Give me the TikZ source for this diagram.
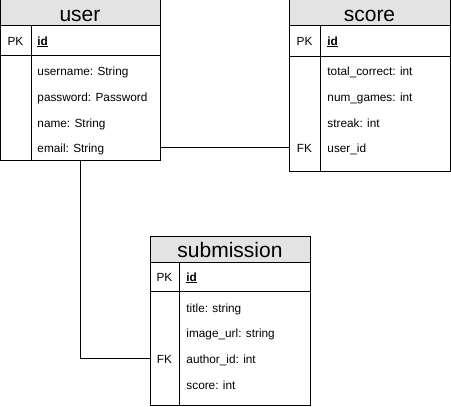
\documentclass[tikz,border=0pt]{standalone}
\usepackage{fontspec}
\setmainfont{Liberation Sans}
\usetikzlibrary{positioning,calc}

\begin{document}
\begin{tikzpicture}[
    x=1pt, y=-1pt,
    line width=0.9pt,
    frame/.style={draw, anchor=north west, inner sep=0pt},
    header/.style={draw, fill=gray!22, anchor=north west, inner sep=0pt},
    title/.style={anchor=base, inner sep=0pt, font=\fontsize{21}{23}\selectfont},
    keytag/.style={anchor=base, font=\fontsize{11.8}{13}\selectfont, inner sep=0pt},
    field/.style={anchor=base west, font=\fontsize{11.8}{13}\selectfont, inner sep=0pt}
  ]
  \useasboundingbox (0,0) rectangle (451,407);

  % user
  \node[frame, minimum width=160pt, minimum height=161pt] (user) at (0,-1) {};
  \node[header, minimum width=160pt, minimum height=26pt] (userhd) at (0,-1) {};
  \node[title] (usert) at (80,21) {user};
  \draw (user.west |- 0,55) -- (user.east |- 0,55);
  \draw (31,25) -- (31,160);
  \node[keytag] (upk) at (15.5,45) {PK};
  \node[field] (uid) at (37,45) {\underline{\textbf{id}}};
  \node[field] (uname) at (37,75) {username: String};
  \node[field] (upass) at (37,101) {password: Password};
  \node[field] (ureal) at (37,127) {name: String};
  \node[field] (umail) at (37,152) {email: String};

  % score
  \node[frame, minimum width=161pt, minimum height=172pt] (score) at (289,-1) {};
  \node[header, minimum width=161pt, minimum height=26pt] (scorehd) at (289,-1) {};
  \node[title] (scoret) at (369.5,21) {score};
  \draw (score.west |- 0,56) -- (score.east |- 0,56);
  \draw (320,25) -- (320,171);
  \node[keytag] (spk) at (304.5,45) {PK};
  \node[field] (sid) at (327,45) {\underline{\textbf{id}}};
  \node[field] (stotal) at (327,75) {total\_correct: int};
  \node[field] (sgames) at (327,101) {num\_games: int};
  \node[field] (sstreak) at (327,127) {streak: int};
  \node[keytag] (sfk) at (304.5,152) {FK};
  \node[field] (suser) at (327,152) {user\_id};

  % submission
  \node[frame, minimum width=160pt, minimum height=169pt] (sub) at (150,236) {};
  \node[header, minimum width=160pt, minimum height=26pt] (subhd) at (150,236) {};
  \node[title] (subt) at (230,257) {submission};
  \draw (sub.west |- 0,291) -- (sub.east |- 0,291);
  \draw (179,262) -- (179,405);
  \node[keytag] (bpk) at (164.5,281) {PK};
  \node[field] (bid) at (186,281) {\underline{\textbf{id}}};
  \node[field] (btitle) at (186,312) {title: string};
  \node[field] (bimage) at (186,337) {image\_url: string};
  \node[keytag] (bfk) at (164.5,363) {FK};
  \node[field] (bauthor) at (186,363) {author\_id: int};
  \node[field] (bscore) at (186,389) {score: int};

  % relations
  \draw (user.east |- sfk) -- (score.west |- sfk);
  \draw (user.south) |- (sub.west |- bfk);
\end{tikzpicture}
\end{document}
